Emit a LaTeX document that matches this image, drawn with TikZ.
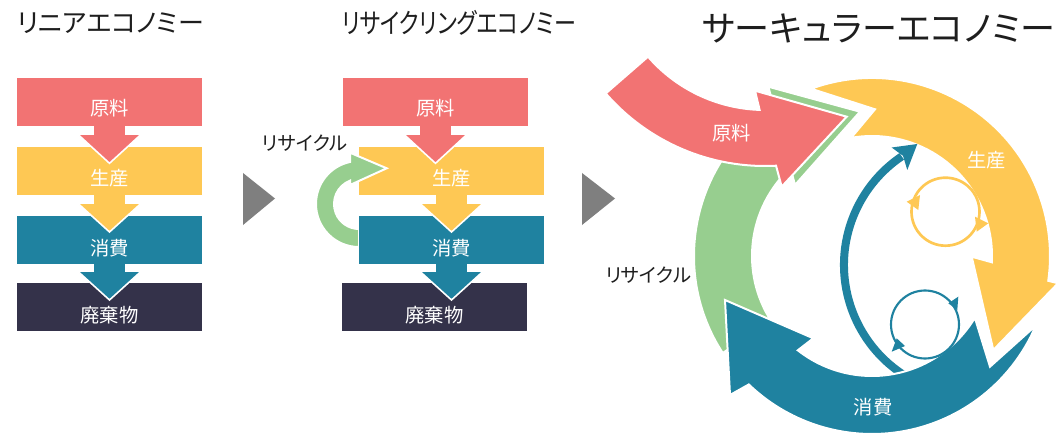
\documentclass[tikz,border=0pt]{standalone}
\usepackage{fontspec}
\newfontfamily\jp{Noto Sans CJK JP}
\newfontfamily\jpp{Noto Sans CJK JP}[RawFeature=+palt]
\usetikzlibrary{calc}
\definecolor{cred}{RGB}{242,115,115}
\definecolor{cyel}{RGB}{254,200,84}
\definecolor{cteal}{RGB}{31,130,160}
\definecolor{cdark}{RGB}{52,50,74}
\definecolor{cgreen}{RGB}{151,206,143}
\definecolor{cgray}{RGB}{127,127,127}
\definecolor{ctext}{RGB}{30,30,30}
\newcommand\dnarr[5]{%
  \fill[#1, draw=white, line width=1.2pt] ({#2-16.5},#3) -- ({#2+16.5},#3) -- ({#2+16.5},#4) -- ({#2+32},#4) -- (#2,#5) -- ({#2-32},#4) -- ({#2-16.5},#4) -- cycle;}
\begin{document}
\begin{tikzpicture}[x=0.75pt,y=-0.75pt,
  box/.style={minimum width=138.75pt, minimum height=36pt, inner sep=0pt, draw=none},
  lbl/.style={text=white, font=\jp\fontsize{14.5}{16}\selectfont, inner sep=0pt},
  dlbl/.style={text=ctext, font=\jpp\fontsize{14.5}{16}\selectfont, inner sep=0pt},
  band/.style={draw=white, line width=1.5pt},
  ttl/.style={text=ctext, inner sep=0pt}]
\fill[white] (0,0) rectangle (1058,435);
\useasboundingbox (0,0) rectangle (1058,435);

% titles
\node[ttl] (t1) at (110.5,23) {\resizebox{140pt}{!}{\jpp リニアエコノミー}};
\node[ttl] (t2) at (459,23) {\resizebox{176pt}{!}{\scalebox{1}[1.25]{\jpp リサイクリングエコノミー}}};
\node[ttl] (t3) at (878.5,28.5) {\resizebox{264.75pt}{!}{\jpp サーキュラーエコノミー}};

% ---------- linear ----------
\node[box, fill=cdark] (a4) at (109.5,307) {};
\dnarr{cteal}{109.5}{255}{271}{300}
\node[box, fill=cteal] (a3) at (109.5,239.5) {};
\dnarr{cyel}{109.5}{187}{203}{232}
\node[box, fill=cyel] (a2) at (109.5,171) {};
\dnarr{cred}{109.5}{118}{134}{163.3}
\node[box, fill=cred] (a1) at (109.5,102) {};
\node[lbl] (a1l) at (109.5,108.3) {原料};
\node[lbl] (a2l) at (109.5,178) {生産};
\node[lbl] (a3l) at (109.5,248) {消費};
\node[lbl] (a4l) at (109.5,315) {廃棄物};

% arrow separators
\fill[cgray] (243,173) -- (275,198.5) -- (243,225) -- cycle;
\fill[cgray] (582,173) -- (615,198.5) -- (582,225) -- cycle;

% ---------- recycling ----------
\node[box, fill=cdark] (b4) at (434.5,307) {};
\dnarr{cteal}{451.5}{255}{271}{300}
\node[box, fill=cteal] (b3) at (451.5,239.5) {};
\dnarr{cyel}{451.5}{187}{203}{232}
\node[box, fill=cyel] (b2) at (451.5,171) {};
\coordinate (G) at (359,204);
\fill[cgreen, band] ($(G)+(90:43)$) arc[start angle=90,end angle=258,radius=43] -- (350,152.7) -- (386.7,168.3) -- (350,185) -- ($(G)+(248.9:25)$) arc[start angle=248.9,end angle=90,radius=25] -- cycle;
\fill[cteal] (359,225) rectangle (368,252);
\dnarr{cred}{435.5}{118}{134}{163.3}
\node[box, fill=cred] (b1) at (435.5,102) {};
\node[lbl] (b1l) at (435.5,108.3) {原料};
\node[lbl] (b2l) at (451.5,178) {生産};
\node[lbl] (b3l) at (451.5,248) {消費};
\node[lbl] (b4l) at (434.5,315) {廃棄物};
\node[dlbl] (brl) at (305,143) {リサイクル};

% ---------- circular ----------
\coordinate (C) at (872,256);
\coordinate (Cr) at (765,-45);
\coordinate (T) at (975,265);
% green recycle band
\fill[cgreen, band] ($(C)+(147:178)$) arc[start angle=147,end angle=236.6,radius=178] -- (768.3,86.7) -- (860,111.7) -- (795,185) -- ($(C)+(227.2:120)$) arc[start angle=227.2,end angle=147,radius=120] -- cycle;
% yellow production band
\fill[cyel, band] ($(C)+(250:178)$) arc[start angle=250,end angle=368,radius=178] -- (1058,283.3) -- (993.3,350) -- (971.7,256.7) -- ($(C)+(363:120)$) arc[start angle=363,end angle=260,radius=120] -- (875,109.3) -- cycle;
% thin teal arc
\draw[cteal, line width=6pt] ($(T)+(118:131)$) arc[start angle=118,end angle=236,radius=131];
\fill[cteal] (917.3,144) -- (891.7,147.5) -- (903,155.8) -- (907.3,170) -- cycle;
% teal consumption band
\fill[cteal, band] ($(C)+(23:178)$) arc[start angle=23,end angle=133.8,radius=178] -- (730,395) -- (725,300) -- (813.3,338.3) -- ($(C)+(128.2:120)$) arc[start angle=128.2,end angle=31,radius=120] -- (990,366.7) -- cycle;
% red raw material arrow
\fill[cred, band] ($(Cr)+(139:211)$) arc[start angle=139,end angle=87,radius=211] -- (781.7,186.7) -- (846.7,116.7) -- (755,90.7) -- ($(Cr)+(92:155)$) arc[start angle=92,end angle=139,radius=155] -- cycle;
% small cycles
\draw[cyel, line width=2pt] (945.5,211.7) circle[radius=34];
\fill[cyel] (906.7,201.7) -- (920,195) -- (918.3,210) -- cycle;
\fill[cyel] (988.3,223.3) -- (975,216.7) -- (976.7,231.7) -- cycle;
\draw[cteal, line width=1.6pt] (925,324.5) circle[radius=34];
\fill[cteal] (948.3,303.3) -- (958.3,296.7) -- (957.3,310) -- cycle;
\fill[cteal] (891.7,351.7) -- (896.7,338.3) -- (905,346) -- cycle;
% labels
\node[lbl] (cl1) at (731.7,133.3) {原料};
\node[lbl] (cl2) at (986.7,160) {生産};
\node[lbl] (cl3) at (873.3,406.7) {消費};
\node[dlbl] (cl4) at (648.3,275) {リサイクル};
\end{tikzpicture}
\end{document}
